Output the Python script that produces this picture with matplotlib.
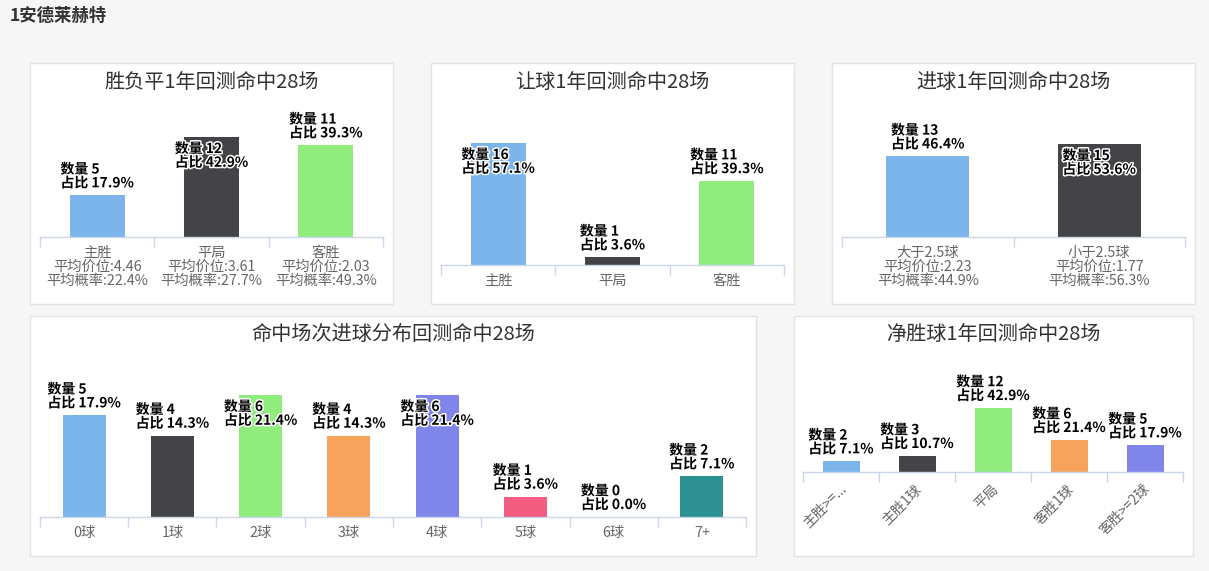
import matplotlib
matplotlib.use('Agg')
import matplotlib.pyplot as plt
from matplotlib.patches import Rectangle
import matplotlib.patheffects as pe
import numpy as np

plt.rcParams['font.family'] = ['Noto Sans CJK SC', 'DejaVu Sans']

W, H = 1209, 571

team_title = "1安德莱赫特"

# Chart 1: win / draw / loss
wdl_title = "胜负平1年回测命中28场"
wdl_cats = ["主胜", "平局", "客胜"]
wdl_avg_price = ["4.46", "3.61", "2.03"]
wdl_avg_prob = ["22.4%", "27.7%", "49.3%"]
wdl_counts = [5, 12, 11]
wdl_pcts = ["17.9%", "42.9%", "39.3%"]

# Chart 2: handicap
hc_title = "让球1年回测命中28场"
hc_cats = ["主胜", "平局", "客胜"]
hc_counts = [16, 1, 11]
hc_pcts = ["57.1%", "3.6%", "39.3%"]

# Chart 3: over / under
ou_title = "进球1年回测命中28场"
ou_cats = ["大于2.5球", "小于2.5球"]
ou_avg_price = ["2.23", "1.77"]
ou_avg_prob = ["44.9%", "56.3%"]
ou_counts = [13, 15]
ou_pcts = ["46.4%", "53.6%"]

# Chart 4: goals distribution
goals_title = "命中场次进球分布回测命中28场"
goals_cats = ["0球", "1球", "2球", "3球", "4球", "5球", "6球", "7+"]
goals_counts = [5, 4, 6, 4, 6, 1, 0, 2]
goals_pcts = ["17.9%", "14.3%", "21.4%", "14.3%", "21.4%", "3.6%", "0.0%", "7.1%"]

# Chart 5: goal margin
margin_title = "净胜球1年回测命中28场"
margin_cats = ["主胜>=...", "主胜1球", "平局", "客胜1球", "客胜>=2球"]
margin_counts = [2, 3, 12, 6, 5]
margin_pcts = ["7.1%", "10.7%", "42.9%", "21.4%", "17.9%"]

palette = ['#7cb5ec', '#434348', '#90ed7d', '#f7a35c', '#8085e9',
           '#f15c80', '#e4d354', '#2b908f']

BG = '#f6f6f6'
PT = 0.72  # points per pixel at dpi 100

fig = plt.figure(figsize=(W / 100, H / 100), dpi=100, facecolor=BG)

fig.text(10 / W, 1 - 16 / H, team_title, ha='left', va='center',
         fontsize=12.5, fontweight='bold', color='#333333')


def panel(rect, title, title_y, ax_x0, ax_x1, baseline, px_per_unit, ymax,
          counts, pcts, bar_px, cat_labels, rotate=False):
    x0, y0, x1, y1 = rect
    fig.patches.append(Rectangle((x0 / W, 1 - y1 / H), (x1 - x0) / W, (y1 - y0) / H,
                                 transform=fig.transFigure, facecolor='white',
                                 edgecolor='#e4e4e4', lw=1, zorder=-5))
    fig.text(((x0 + x1) / 2) / W, 1 - title_y / H, title, ha='center', va='center',
             fontsize=14.5, color='#333333')
    top_px = baseline - ymax * px_per_unit
    ax = fig.add_axes([ax_x0 / W, 1 - baseline / H, (ax_x1 - ax_x0) / W,
                       (baseline - top_px) / H])
    ax.set_zorder(2)
    ax.set_facecolor('none')
    n = len(counts)
    slot = (ax_x1 - ax_x0) / n
    ax.bar(np.arange(n), counts, width=bar_px / slot, color=palette[:n], zorder=2)
    ax.set_xlim(-0.5, n - 0.5)
    ax.set_ylim(0, ymax)
    for s in ['left', 'right', 'top']:
        ax.spines[s].set_visible(False)
    ax.spines['bottom'].set_color('#ccd6eb')
    ax.spines['bottom'].set_linewidth(1)
    ax.set_yticks([])
    ax.set_xticks(np.arange(n + 1) - 0.5)
    ax.tick_params(axis='x', length=10 * PT, color='#ccd6eb', width=1,
                   labelbottom=False)
    for i, (c, p) in enumerate(zip(counts, pcts)):
        txt = f"数量 {c}\n占比 {p}"
        inside = c >= ymax - 1e-9
        if inside:
            xyt, va = (0, -5 * PT), 'top'
        else:
            xyt, va = (0, 5 * PT), 'bottom'
        ax.annotate(txt, xy=(i, c), xytext=xyt, textcoords='offset points',
                    ha='center', va=va, multialignment='left', fontsize=10,
                    fontweight='bold', color='black', linespacing=0.98,
                    annotation_clip=False, zorder=5,
                    path_effects=[pe.withStroke(linewidth=2.2, foreground='white')])
    for i, lab in enumerate(cat_labels):
        if rotate:
            ax.annotate(lab, xy=(i, 0), xycoords=('data', 'axes fraction'),
                        xytext=(3 * PT, -15 * PT), textcoords='offset points',
                        rotation=45, ha='right', va='center', rotation_mode='anchor',
                        fontsize=10, color='#666666', annotation_clip=False)
        else:
            ax.annotate(lab, xy=(i, 0), xycoords=('data', 'axes fraction'),
                        xytext=(0, -9 * PT), textcoords='offset points',
                        ha='center', va='top', fontsize=10.3, color='#666666',
                        linespacing=0.98, annotation_clip=False)
    return ax


wdl_labels = [f"{c}\n平均价位:{p}\n平均概率:{q}" for c, p, q in
              zip(wdl_cats, wdl_avg_price, wdl_avg_prob)]
panel((30, 63, 393, 304), wdl_title, 82, 40, 383, 237, 100 / 12, 12,
      wdl_counts, wdl_pcts, 55, wdl_labels)

panel((431, 63, 794, 304), hc_title, 82, 441, 784, 265, 122 / 16, 16,
      hc_counts, hc_pcts, 55, hc_cats)

ou_labels = [f"{c}\n平均价位:{p}\n平均概率:{q}" for c, p, q in
             zip(ou_cats, ou_avg_price, ou_avg_prob)]
panel((832, 63, 1195, 304), ou_title, 82, 842, 1185, 237, 93 / 15, 15,
      ou_counts, ou_pcts, 83, ou_labels)

panel((30, 316, 756, 556), goals_title, 334, 40, 746, 517, 122 / 6, 6,
      goals_counts, goals_pcts, 43, goals_cats)

panel((794, 316, 1193, 556), margin_title, 334, 803, 1183, 472, 64 / 12, 15,
      margin_counts, margin_pcts, 37, margin_cats, rotate=True)

fig.savefig('out.png', dpi=100, facecolor=BG)
